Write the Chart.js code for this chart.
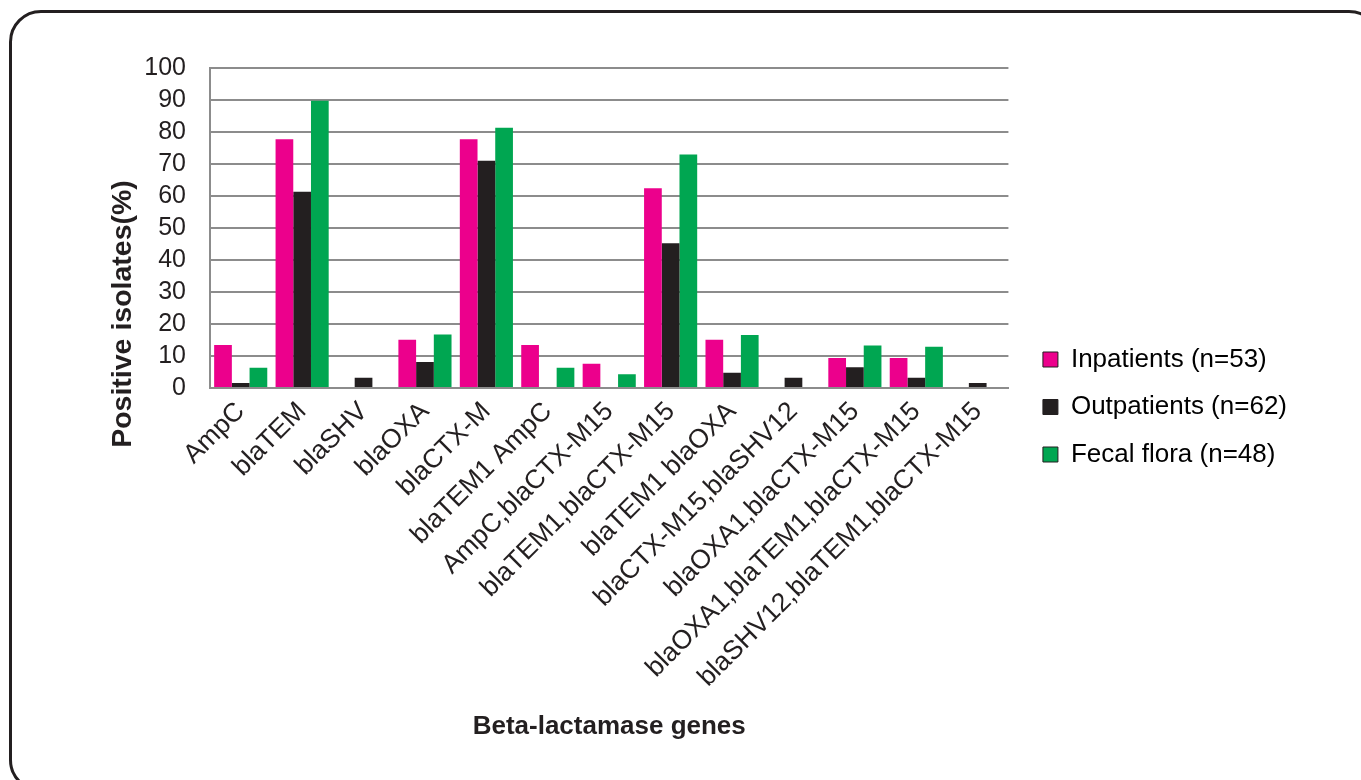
<!DOCTYPE html>
<html>
<head>
<meta charset="utf-8">
<script src="https://cdn.jsdelivr.net/npm/chart.js@4.4.1/dist/chart.umd.min.js"></script>
<style>
  html, body { margin: 0; padding: 0; background: #fff; overflow: hidden; }
  #wrap { position: absolute; left: 0; top: 0; width: 1361px; height: 780px; }
  #frame {
    position: absolute; left: 9px; top: 10px; width: 1366px; height: 776px;
    border: 3px solid #231f20; border-radius: 32px; pointer-events: none;
  }
</style>
</head>
<body>
<div id="wrap"><canvas id="myChart" width="1361" height="780"></canvas></div>
<div id="frame"></div>
<script>
var genes = ['AmpC', 'blaTEM', 'blaSHV', 'blaOXA', 'blaCTX-M', 'blaTEM1 AmpC',
  'AmpC,blaCTX-M15', 'blaTEM1,blaCTX-M15', 'blaTEM1 blaOXA', 'blaCTX-M15,blaSHV12',
  'blaOXA1,blaCTX-M15', 'blaOXA1,blaTEM1,blaCTX-M15', 'blaSHV12,blaTEM1,blaCTX-M15'];

var inpatients  = [13.4, 77.7, 0, 15.1, 77.7, 13.4, 7.6, 62.4, 15.1, 0, 9.4, 9.4, 0];
var outpatients = [1.6, 61.3, 3.2, 8.1, 71.0, 0, 0, 45.2, 4.8, 3.2, 6.5, 3.2, 1.6];
var fecalFlora  = [6.3, 89.8, 0, 16.7, 81.3, 6.3, 4.3, 73.0, 16.6, 0, 13.3, 12.9, 0];

var seriesNames = ['Inpatients (n=53)', 'Outpatients (n=62)', 'Fecal flora (n=48)'];
var yTicks = [0, 10, 20, 30, 40, 50, 60, 70, 80, 90, 100];
var yTitle = 'Positive isolates(%)';

var ink = '#231f20';
var fontFam = "'Liberation Sans', Arial, sans-serif";
Chart.defaults.font.family = fontFam;
Chart.defaults.color = ink;

// y title sits lower than the axis centre in the original, so draw it here
const yTitlePlugin = {
  id: 'yTitle',
  afterDraw: function(chart) {
    const ctx = chart.ctx;
    const area = chart.chartArea;
    ctx.save();
    ctx.translate(area.left - 87, area.bottom - 74);
    ctx.rotate(-Math.PI / 2);
    ctx.font = 'bold 28.5px ' + fontFam;
    ctx.fillStyle = ink;
    ctx.textAlign = 'center';
    ctx.textBaseline = 'middle';
    ctx.fillText(yTitle, 0, 0);
    ctx.restore();
  }
};

const mychart = new Chart('myChart', {
  type: 'bar',
  data: {
    labels: genes,
    datasets: [{
      label: seriesNames[0],
      data: inpatients,
      backgroundColor: '#ec008c'
    }, {
      label: seriesNames[1],
      data: outpatients,
      backgroundColor: '#231f20'
    }, {
      label: seriesNames[2],
      data: fecalFlora,
      backgroundColor: '#00a651'
    }]
  },
  options: {
    responsive: false,
    animation: false,
    datasets: {
      bar: { categoryPercentage: 0.865, barPercentage: 1.0 }
    },
    layout: {
      padding: { left: 106, top: 68, right: 64, bottom: 34 }
    },
    plugins: {
      tooltip: { enabled: false },
      legend: {
        position: 'right',
        maxWidth: 330,
        labels: {
          boxWidth: 15,
          boxHeight: 15,
          padding: 21.5,
          font: { size: 26 },
          color: ink,
          generateLabels: function(chart) {
            return chart.data.datasets.map(function(ds, i) {
              return {
                text: ds.label,
                fillStyle: ds.backgroundColor,
                strokeStyle: ink,
                lineWidth: 1,
                datasetIndex: i
              };
            });
          }
        }
      }
    },
    scales: {
      x: {
        grid: { display: false },
        border: { color: '#8c8c8c', width: 2 },
        ticks: {
          autoSkip: false,
          maxRotation: 45,
          minRotation: 45,
          padding: 0,
          font: { size: 26.5 },
          color: ink
        },
        title: {
          display: true,
          text: 'Beta-lactamase genes',
          font: { size: 26, weight: 'bold' },
          color: ink,
          padding: { top: 18, bottom: 4 }
        },
        afterFit: function(axis) { axis.height = 358; }
      },
      y: {
        min: 0,
        max: 100,
        afterBuildTicks: function(axis) {
          axis.ticks = yTicks.map(function(v) { return { value: v }; });
        },
        grid: { color: '#8c8c8c', lineWidth: 2, drawTicks: false },
        border: { color: '#8c8c8c', width: 2 },
        ticks: {
          autoSkip: false,
          padding: 24,
          font: { size: 25 },
          color: ink
        },
        afterFit: function(axis) { axis.width = 104; }
      },
      // empty spacer between plot and legend
      spacer: {
        type: 'linear',
        position: 'right',
        display: true,
        grid: { display: false },
        border: { display: false },
        ticks: { display: false },
        afterFit: function(axis) { axis.width = 13; }
      }
    }
  },
  plugins: [yTitlePlugin]
});
</script>
</body>
</html>
